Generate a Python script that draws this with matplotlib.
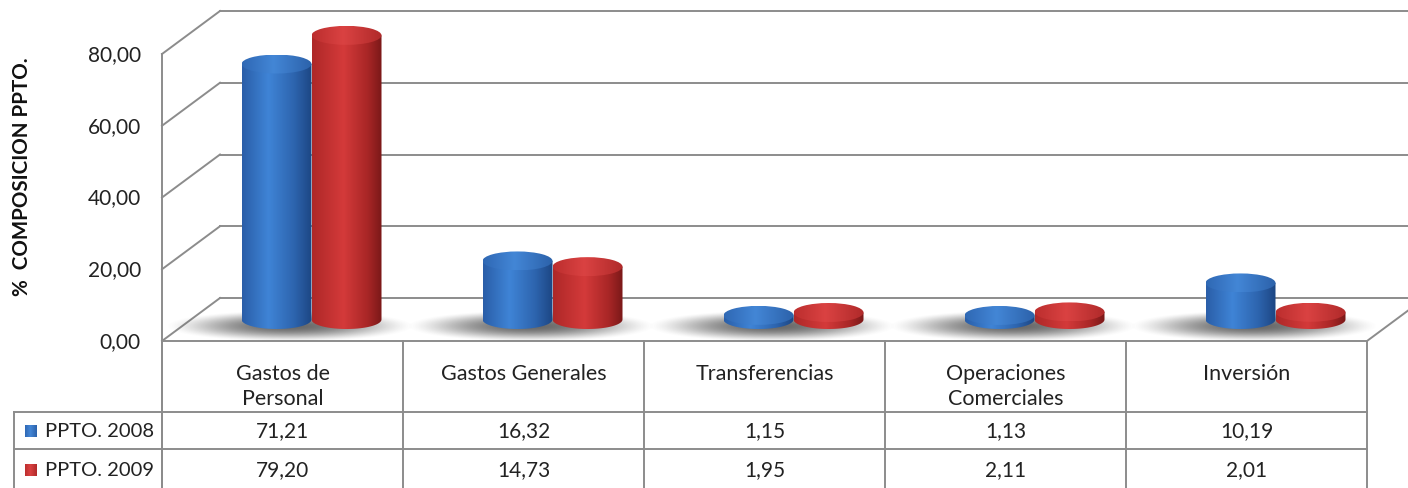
import numpy as np
import matplotlib.pyplot as plt
from matplotlib.patches import Ellipse, Polygon

# datos
categorias = ["Gastos de\nPersonal", "Gastos Generales", "Transferencias",
              "Operaciones\nComerciales", "Inversión"]
series = ["PPTO. 2008", "PPTO. 2009"]
ppto_2008 = [71.21, 16.32, 1.15, 1.13, 10.19]
ppto_2009 = [79.20, 14.73, 1.95, 2.11, 2.01]
ticks_y = [0, 20, 40, 60, 80]
etiquetas_y = ["0,00", "20,00", "40,00", "60,00", "80,00"]
etiquetas_tabla = [["71,21", "16,32", "1,15", "1,13", "10,19"],
                   ["79,20", "14,73", "1,95", "2,11", "2,01"]]

plt.rcParams['font.family'] = ['Lato', 'DejaVu Sans']

W, H = 1408, 489
fig = plt.figure(figsize=(W / 100, H / 100), dpi=100)
ax = fig.add_axes([0, 0, 1, 1])

# geometria en pixeles
X0, Y0 = 162, 342          # esquina frontal izquierda (valor 0)
ESC = 287 / 80             # px por unidad
DX, DY = 58, -43           # desplazamiento de profundidad
ANCHO_CAT = 241
N = len(categorias)
X1 = X0 + ANCHO_CAT * N
GRIS = '#8c8c8c'
A_CIL, B_CIL = 35, 9.5


def y_val(v, prof=0.0):
    return Y0 - v * ESC + DY * prof


def x_cat(i, prof=0.0):
    return X0 + ANCHO_CAT * (i + 0.5) + DX * prof


def gradiente(stops, n=200):
    pos = [s[0] for s in stops]
    cols = np.array([plt.matplotlib.colors.to_rgb(s[1]) for s in stops])
    t = np.linspace(0, 1, n)
    arr = np.stack([np.interp(t, pos, cols[:, k]) for k in range(3)], axis=-1)
    return arr[np.newaxis, :, :]


grad_cuerpo = [
    gradiente([(0, '#2a5ea8'), (0.38, '#3f84d6'), (0.75, '#2d64ae'), (1, '#1c4683')]),
    gradiente([(0, '#ae2828'), (0.45, '#d43a3a'), (0.8, '#a82626'), (1, '#7a1818')]),
]
grad_tapa = [
    gradiente([(0, '#2f68b4'), (0.45, '#4386d6'), (1, '#2c62aa')]),
    gradiente([(0, '#bc2e2e'), (0.45, '#da4242'), (1, '#b02a2a')]),
]

# paredes y rejilla
for v, lbl in zip(ticks_y, etiquetas_y):
    ax.plot([X0, X0 + DX], [y_val(v), y_val(v, 1)], color=GRIS, lw=1.4, zorder=1)
    ax.plot([X0 + DX, W + 5], [y_val(v, 1)] * 2, color=GRIS, lw=1.4, zorder=1)
    ax.text(X0 - 21, y_val(v), lbl, ha='right', va='center', fontsize=15, color='#222222')

ax.plot([X0, X0], [y_val(80), H + 5], color=GRIS, lw=1.4, zorder=5)
ax.plot([X0, X1], [Y0, Y0], color=GRIS, lw=1.4, zorder=5)
ax.plot([X1, X1 + DX], [Y0, Y0 + DY], color=GRIS, lw=1.4, zorder=1)

ax.text(22, 177, "%  COMPOSICION PPTO.", rotation=90, ha='center', va='center',
        fontsize=14.8, fontweight='bold', color='#111111')

# sombras (se desvanecen hasta cero en el borde)
yy, xx = np.mgrid[-1:1:60j, -1:1:300j]
r = np.sqrt(xx ** 2 + yy ** 2)
g = np.clip(1 - r ** 2, 0, 1) ** 1.6
sombra = np.zeros((60, 300, 4))
sombra[..., :3] = 0.3
sombra[..., 3] = 0.85 * g
ybase = Y0 + DY * 0.5
for i in range(N):
    xc = x_cat(i, 0.5) - 22
    ax.imshow(sombra, extent=[xc - 125, xc + 125, ybase + 22, ybase - 10],
              aspect='auto', zorder=2, interpolation='bilinear')


def cilindro(xc, v, k, z):
    ytop = ybase - v * ESC
    t = np.linspace(np.pi, 0, 60)
    xs = xc + A_CIL * np.cos(t)
    ys = ybase + B_CIL * np.sin(t)
    verts = [(xc - A_CIL, ytop)] + list(zip(xs, ys)) + [(xc + A_CIL, ytop)]
    cuerpo = Polygon(verts, closed=True, facecolor='none', edgecolor='none', zorder=z)
    ax.add_patch(cuerpo)
    im = ax.imshow(grad_cuerpo[k], extent=[xc - A_CIL, xc + A_CIL, ybase + B_CIL, ytop],
                   aspect='auto', zorder=z, interpolation='bilinear')
    im.set_clip_path(cuerpo)
    tapa = Ellipse((xc, ytop), 2 * A_CIL, 2 * B_CIL, facecolor='none', edgecolor='none', zorder=z + 0.1)
    ax.add_patch(tapa)
    im2 = ax.imshow(grad_tapa[k], extent=[xc - A_CIL, xc + A_CIL, ytop + B_CIL, ytop - B_CIL],
                    aspect='auto', zorder=z + 0.1, interpolation='bilinear')
    im2.set_clip_path(tapa)


z = 3
for i in range(N):
    for k, vals in enumerate([ppto_2008, ppto_2009]):
        xc = x_cat(i, 0.5) + (k - 0.5) * 2 * A_CIL
        cilindro(xc, vals[i], k, z)
        z += 0.2

# tabla de datos
FILA1, FILA2, FONDO = 413, 450, H + 5
for i in range(N + 1):
    xl = X0 + ANCHO_CAT * i
    ax.plot([xl, xl], [Y0, FONDO], color=GRIS, lw=1.4, zorder=6)
ax.plot([14, X1], [FILA1, FILA1], color=GRIS, lw=1.4, zorder=6)
ax.plot([14, X1], [FILA2, FILA2], color=GRIS, lw=1.4, zorder=6)
ax.plot([14, 14], [FILA1, FONDO], color=GRIS, lw=1.4, zorder=6)

for i, cat in enumerate(categorias):
    ax.text(x_cat(i), 364, cat, ha='center', va='top', fontsize=15.5,
            linespacing=1.3, color='#222222', zorder=5)

centros_fila = [(FILA1 + FILA2) / 2, (FILA2 + 489) / 2 + 1]
for r_, (serie, fila) in enumerate(zip(series, etiquetas_tabla)):
    yc = centros_fila[r_]
    ax.imshow(grad_tapa[r_], extent=[25, 37, yc + 6, yc - 6], aspect='auto', zorder=7)
    ax.text(45, yc, serie, ha='left', va='center', fontsize=14.5, color='#222222', zorder=7)
    for i, txt in enumerate(fila):
        ax.text(x_cat(i), yc, txt, ha='center', va='center', fontsize=15, color='#222222', zorder=7)

ax.set_xlim(0, W)
ax.set_ylim(H, 0)
ax.axis('off')
fig.savefig('out.png', dpi=100)
